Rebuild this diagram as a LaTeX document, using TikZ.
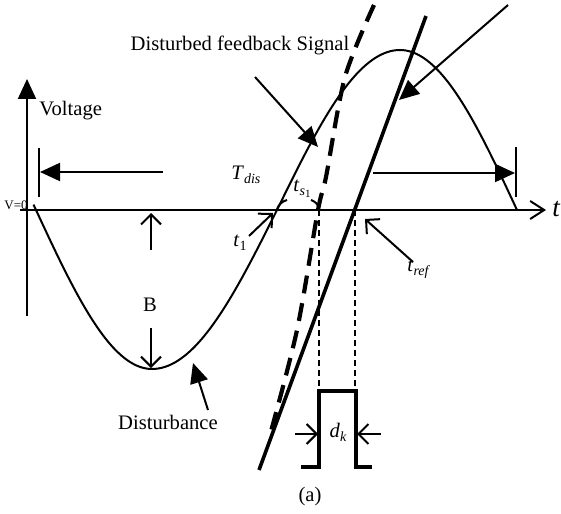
\documentclass[tikz,border=0pt]{standalone}
\usepackage{fontspec}
\setmainfont{Liberation Serif}
\usetikzlibrary{arrows.meta}
\newcommand\mysub[1]{\raisebox{-0.45ex}{\fontsize{7}{8}\selectfont\itshape #1}}
\begin{document}
\begin{tikzpicture}[x=0.5pt,y=-0.5pt,
  normline/.style={line width=1pt},
  fatline/.style={line width=1.8pt},
  fatdash/.style={line width=2.1pt, dash pattern=on 9pt off 5pt},
  guide/.style={line width=0.8pt, dash pattern=on 3pt off 2pt},
  bigtip/.style={-{Triangle[length=10pt,width=9pt]}},
  opentip/.style={-{Straight Barb[length=5pt,width=10pt]}},
  lbl/.style={font=\fontsize{10.3}{12}\selectfont, inner sep=0pt}]
\path[use as bounding box] (0,0) rectangle (561,513);
% axes
\coordinate (vbot) at (27,316);
\coordinate (vtop) at (27,79);
\coordinate (hl) at (20,210);
\coordinate (hr) at (546,210);
\draw[normline, bigtip] (vbot) -- (vtop);
\draw[normline, -{Straight Barb[length=7pt,width=9pt]}] (hl) -- (hr);
% sine-like curve (four quarter waves)
\draw[normline, line join=round]
  plot[domain=33.5:152, samples=40, smooth] (\x,{210+159*sin(90*(\x-36)/116)})
  -- plot[domain=152:277, samples=40, smooth] (\x,{210+159*cos(90*(\x-152)/125)})
  -- plot[domain=277:400, samples=40, smooth] (\x,{210-160*sin(90*(\x-277)/123)})
  -- plot[domain=400:517, samples=40, smooth] (\x,{210-160*cos(90*(\x-400)/117)});
% period markers
\coordinate (lb1) at (39,148); \coordinate (lb2) at (39,197);
\coordinate (rb1) at (516,147); \coordinate (rb2) at (516,197);
\draw[normline] (lb1) -- (lb2);
\draw[normline] (rb1) -- (rb2);
\coordinate (la0) at (163,172); \coordinate (la1) at (40,172);
\coordinate (ra0) at (373,173); \coordinate (ra1) at (515,173);
\draw[normline, bigtip] (la0) -- (la1);
\draw[normline, bigtip] (ra0) -- (ra1);
% reference line (solid) and disturbed feedback (dashed)
\coordinate (sl0) at (259,470); \coordinate (sl1) at (426,16);
\draw[fatline] (sl0) -- (sl1);
\draw[fatdash] plot[smooth] coordinates {(374,5) (345,77) (326,177) (318,210) (297,330) (270,435)};
% guides and pulse
\coordinate (g1a) at (319,210); \coordinate (g1b) at (319,391);
\coordinate (g2a) at (355,210); \coordinate (g2b) at (355,391);
\draw[guide] (g1a) -- (g1b);
\draw[guide] (g2a) -- (g2b);
\coordinate (p0) at (301,467); \coordinate (p1) at (319,467); \coordinate (p2) at (319,391);
\coordinate (p3) at (356,391); \coordinate (p4) at (356,467); \coordinate (p5) at (372,467);
\draw[fatline] (p0) -- (p1) -- (p2) -- (p3) -- (p4) -- (p5);
% labels
\node[lbl, anchor=west] (volt) at (39,111) {Voltage};
\node[font=\fontsize{6.5}{7}\selectfont, inner sep=0pt] (v0) at (16,205) {V=0};
\node[lbl] (dfs) at (240,45) {Disturbed feedback Signal};
\node[lbl, anchor=west] (tdis) at (231,175) {\textit{T}\mysub{dis}};
\node[lbl] (ts1) at (302,189) {\textit{t}\raisebox{-0.4ex}{\fontsize{7}{8}\selectfont\itshape s\raisebox{-0.4ex}{\fontsize{5.5}{6}\selectfont\upshape 1}}};
\node[lbl] (t1) at (240,243) {\textit{t}\mysub{\upshape 1}};
\node[lbl] (B) at (150,305) {B};
\node[lbl] (dist) at (168,422) {Disturbance};
\node[lbl] (tref) at (418,269) {\textit{t}\mysub{ref}};
\node[lbl] (dk) at (338,432) {\textit{d}\mysub{k}};
\node[lbl] (cap) at (310,497) {(a)};
\node[font=\fontsize{13.5}{15}\selectfont\itshape, inner sep=0pt] (tax) at (556,209) {t};
% pointer arrows
\coordinate (df0) at (255,77); \coordinate (df1) at (318,147);
\draw[normline, bigtip] (df0) -- (df1);
\coordinate (tr0) at (508,5); \coordinate (tr1) at (399,100);
\draw[normline, bigtip] (tr0) -- (tr1);
\coordinate (ds0) at (208,410); \coordinate (ds1) at (193,363);
\draw[normline, bigtip] (ds0) -- (ds1);
\coordinate (t10) at (249,236); \coordinate (t11) at (273,213);
\draw[normline, opentip] (t10) -- (t11);
\coordinate (tf0) at (413,262); \coordinate (tf1) at (365,219);
\draw[normline, opentip] (tf0) -- (tf1);
\coordinate (bu0) at (151,250); \coordinate (bu1) at (151,213);
\draw[normline, opentip] (bu0) -- (bu1);
\coordinate (bd0) at (151,328); \coordinate (bd1) at (151,368);
\draw[normline, opentip] (bd0) -- (bd1);
\coordinate (dl0) at (295,434); \coordinate (dl1) at (318,434);
\coordinate (dr0) at (381,434); \coordinate (dr1) at (357,434);
\draw[normline, opentip] (dl0) -- (dl1);
\draw[normline, opentip] (dr0) -- (dr1);
% small brackets at t_s1
\coordinate (a1) at (287,200); \coordinate (a2) at (277,209);
\coordinate (a3) at (311,200); \coordinate (a4) at (319,208);
\draw[normline] (a1) to[bend right=25] (a2);
\draw[normline] (a3) to[bend left=25] (a4);
\end{tikzpicture}
\end{document}
